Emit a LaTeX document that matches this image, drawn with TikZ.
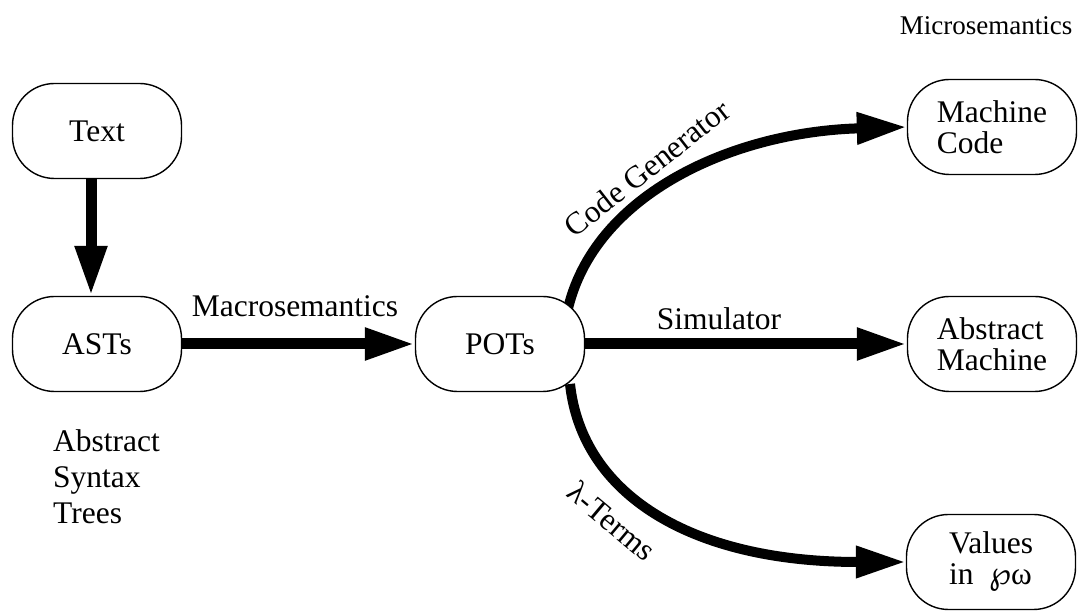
\documentclass[tikz,border=0pt]{standalone}
\usepackage{fontspec}
\setmainfont{Liberation Serif}
\newfontfamily\wpfont{DejaVu Sans}
\usetikzlibrary{arrows.meta,calc,backgrounds}

\begin{document}
\begin{tikzpicture}[x=1pt,y=1pt,
  stage/.style={draw, fill=white, line width=1.4pt, rounded corners=42pt,
    minimum width=169pt, minimum height=95pt, align=left, inner sep=0pt,
    font=\fontsize{31.5}{31}\selectfont},
  lbl/.style={font=\fontsize{31.5}{36}\selectfont, inner sep=0pt},
  flow/.style={line width=10pt, -{Triangle[length=50pt,width=30pt]}},
  straight/.style={flow, line width=11pt},
]
\useasboundingbox (0,0) rectangle (1088,612);

% stages of the translation
\node[stage] (Text) at (97,481) {Text};
\node[stage] (AST)  at (97,268) {ASTs};
\node[stage] (POT)  at (500,268) {POTs};
\node[stage] (MC)   at (992,485) {Machine\\Code};
\node[stage] (AM)   at (992,268) {Abstract\\Machine};
\node[stage] (Val)  at (991,50) {Values\\in\ \ {\wpfont ℘}ω};

% arrows, drawn under the boxes
\begin{scope}[on background layer]
  \draw[straight] ([xshift=-6pt]Text.south) -- ([xshift=-6pt]AST.north);
  \draw[straight] (AST.east) -- (POT.west);
  \draw[straight] (POT.east) -- (AM.west);
  \coordinate (cgFrom) at ($(POT.center)+(66,26)$);
  \coordinate (ltFrom) at ($(POT.center)+(70,-40)$);
  \draw[flow] (cgFrom) .. controls (588,415) and (730,480) .. (MC.west);
  \draw[flow] (ltFrom) .. controls (582,118) and (690,50) .. (Val.west);
\end{scope}

% labels
\node[lbl, anchor=base] (macro) at (295,295) {Macrosemantics};
\node[lbl, anchor=base] (sim) at (719,282) {Simulator};
\node[lbl, anchor=base, font=\fontsize{27}{30}\selectfont] (micro) at (986,577) {Microsemantics};
\node[lbl, anchor=north west, align=left] (ast) at (53,183) {Abstract\\Syntax\\Trees};
\node[lbl, rotate=38] (cg) at (647,444) {Code Generator};
\node[lbl, rotate=-40] (lt) at (612,91) {λ-Terms};
\end{tikzpicture}
\end{document}
